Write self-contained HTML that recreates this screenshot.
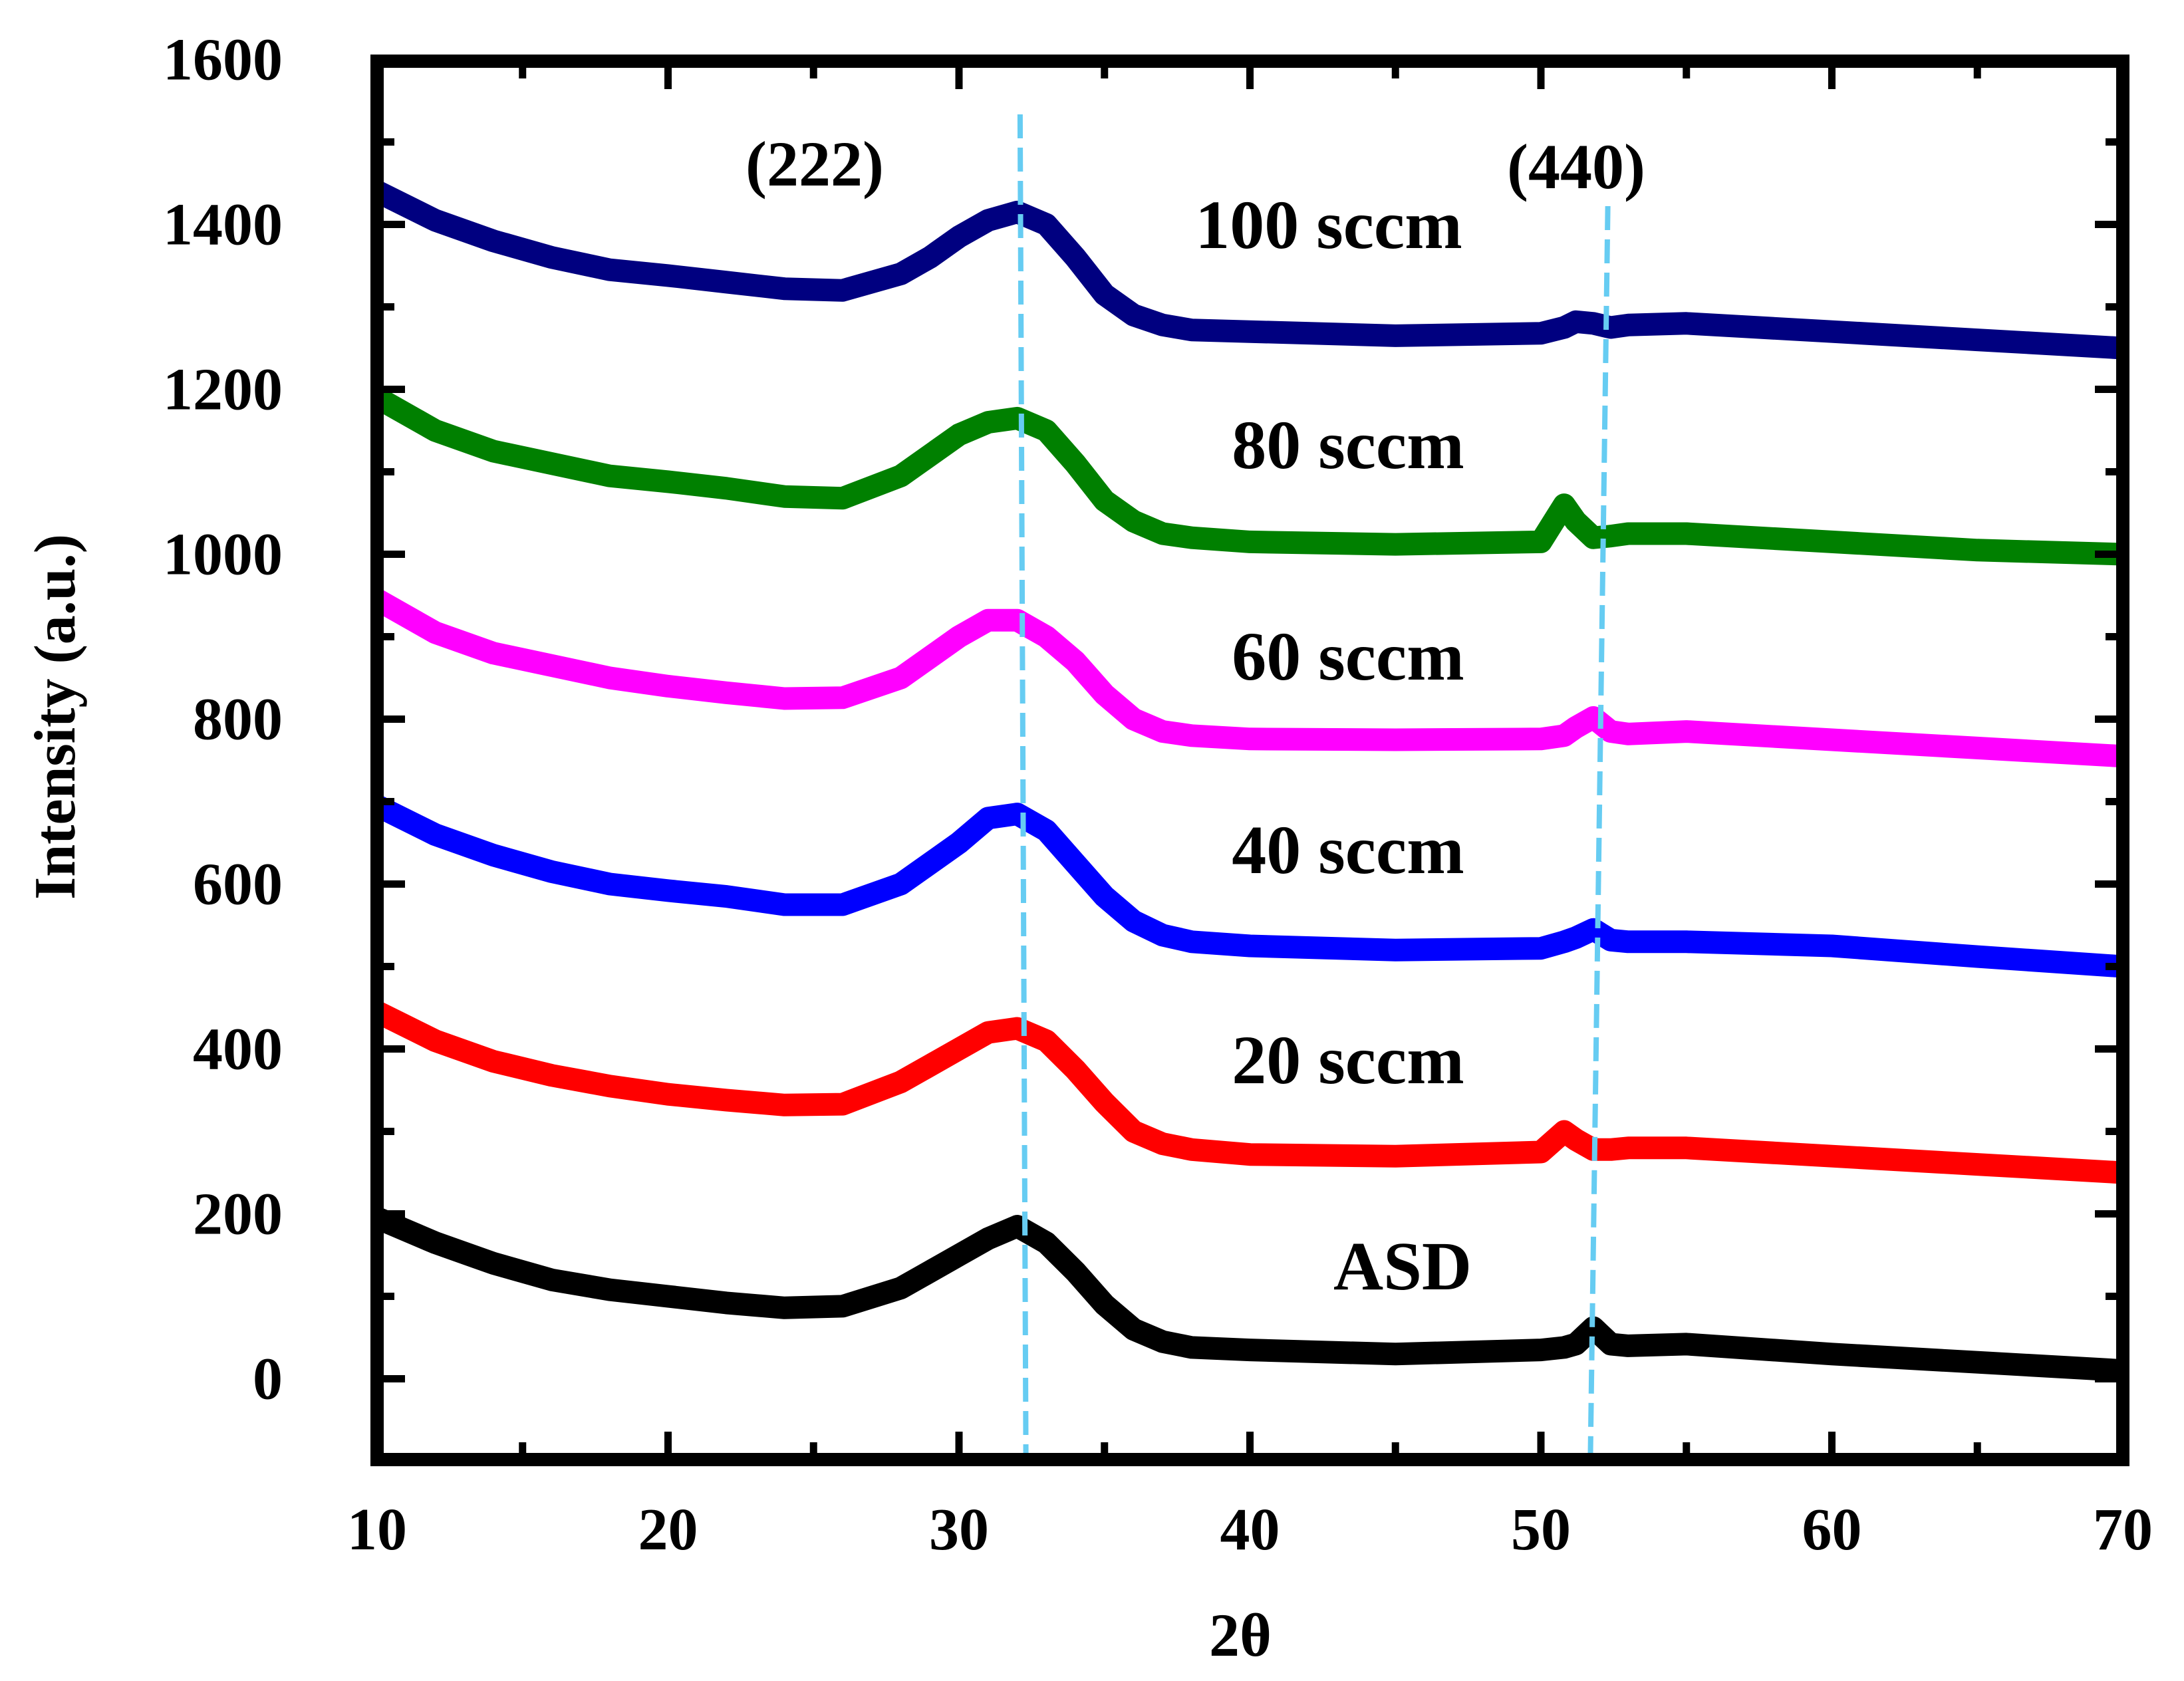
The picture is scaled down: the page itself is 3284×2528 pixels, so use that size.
<!DOCTYPE html>
<html><head><meta charset="utf-8"><style>
html,body{margin:0;padding:0;background:#fff}
svg{display:block}
text{font-family:"Liberation Serif",serif;font-weight:bold;fill:#000}
</style></head><body>
<svg id="chart" width="3284" height="2528" viewBox="0 0 3284 2528" xmlns="http://www.w3.org/2000/svg">
<defs><clipPath id="pc"><rect x="567" y="92" width="2625" height="2103"/></clipPath></defs>
<g id="curves" clip-path="url(#pc)"></g>
<g id="dashes"></g>
<g id="axes"></g>
<g id="labels"></g>
</svg>
<script>
const xTicks=[10,20,30,40,50,60,70];
const yTicks=[0,200,400,600,800,1000,1200,1400,1600];
const xs=[10,12,14,16,18,20,22,24,26,28,29,30,31,32,33,34,35,36,37,38,40,45,50,50.8,51.2,51.8,52.4,53,55,60,65,70];
const asd=[195,165,140,120,108,100,92,86,88,110,130,150,170,185,165,130,90,60,45,38,35,30,35,38,42,62,42,40,42,30,20,10];
const s20=[445,410,385,368,355,345,338,332,333,360,380,400,420,425,410,375,335,300,285,278,272,270,275,300,290,278,278,280,280,270,260,250];
const s40=[695,660,635,615,600,592,585,575,575,600,625,650,680,685,665,625,585,555,538,530,525,520,522,530,535,545,532,530,530,525,512,500];
const s60=[945,905,880,865,850,840,832,825,826,850,875,900,920,920,900,870,830,800,785,780,776,775,776,780,790,802,785,782,785,775,765,755];
const s80=[1190,1150,1125,1110,1095,1088,1080,1070,1068,1095,1120,1145,1160,1165,1150,1110,1065,1040,1025,1020,1015,1012,1015,1060,1040,1020,1022,1025,1025,1015,1005,1000];
const s100=[1440,1405,1380,1360,1345,1338,1330,1322,1320,1340,1360,1385,1405,1415,1400,1360,1315,1290,1278,1272,1270,1265,1268,1275,1282,1280,1275,1278,1280,1270,1260,1250];
const seriesNames=["ASD","20 sccm","40 sccm","60 sccm","80 sccm","100 sccm"];
const seriesVals=[asd,s20,s40,s60,s80,s100];
const seriesColors=["#000000","#ff0000","#0000ff","#ff00ff","#008000","#000080"];
const peakLines=[[32.1,32.3],[52.3,51.7]];

const L=567,R=3192,T=92,B=2195;
const X0=10,X1=70,Y0=-98,Y1=1598;
const xS=v=>L+(v-X0)/(X1-X0)*(R-L);
const yS=v=>B-(v-Y0)/(Y1-Y0)*(B-T);
const NS="http://www.w3.org/2000/svg";
function mk(tag,attrs,parent){const e=document.createElementNS(NS,tag);for(const k in attrs)e.setAttribute(k,attrs[k]);parent.appendChild(e);return e;}
const curves=document.getElementById('curves'),dashes=document.getElementById('dashes'),axes=document.getElementById('axes'),labels=document.getElementById('labels');

seriesVals.forEach((vals,i)=>{
  let d='';vals.forEach((v,j)=>{d+=(j?'L':'M')+xS(xs[j]).toFixed(1)+','+yS(v).toFixed(1);});
  const p=mk('path',{d:d,fill:'none',stroke:seriesColors[i],'stroke-width':34,'stroke-linejoin':'round','stroke-linecap':'butt'},curves);
  
  
});
peakLines.forEach((pl,i)=>{
  const l=mk('line',{x1:xS(pl[0]),y1:i?310:172,x2:xS(pl[1]),y2:B,stroke:'#66ccf2','stroke-width':8,'stroke-dasharray':'36,14'},dashes);
  
  
});
const fr=mk('rect',{x:L,y:T,width:R-L,height:B-T,fill:'none',stroke:'#000','stroke-width':20},axes);


for(let v=10;v<=70;v+=5){
  const len=(v%10===0)?42:26;
  mk('line',{x1:xS(v),y1:B,x2:xS(v),y2:B-len,stroke:'#000','stroke-width':11},axes);
  mk('line',{x1:xS(v),y1:T,x2:xS(v),y2:T+len,stroke:'#000','stroke-width':11},axes);
}
for(let v=-100;v<=1600;v+=100){
  if(yS(v)<T+5||yS(v)>B-5)continue;
  const len=(v%200===0)?42:26;
  mk('line',{x1:L,y1:yS(v),x2:L+len,y2:yS(v),stroke:'#000','stroke-width':11},axes);
  mk('line',{x1:R,y1:yS(v),x2:R-len,y2:yS(v),stroke:'#000','stroke-width':11},axes);
}
xTicks.forEach(v=>{
  const t=mk('text',{x:xS(v),y:2330,'font-size':90,'text-anchor':'middle'},labels);t.textContent=v;
  
  
});
yTicks.forEach(v=>{
  const t=mk('text',{x:425,y:yS(v)+30,'font-size':90,'text-anchor':'end'},labels);t.textContent=v;
  
  
});
</script>
<svg style="position:absolute;left:0;top:0" width="3284" height="2528">
<text x="1865" y="2490" font-size="92" text-anchor="middle">2θ</text>
<text transform="translate(112,1078) rotate(-90)" font-size="88" text-anchor="middle">Intensity (a.u.)</text>
<text x="1225" y="279" font-size="96" text-anchor="middle">(222)</text>
<text x="2370" y="283" font-size="96" text-anchor="middle">(440)</text>
<text x="1998" y="373" font-size="104" text-anchor="middle">100 sccm</text>
<text x="2027" y="704" font-size="104" text-anchor="middle">80 sccm</text>
<text x="2027" y="1022" font-size="104" text-anchor="middle">60 sccm</text>
<text x="2027" y="1313" font-size="104" text-anchor="middle">40 sccm</text>
<text x="2027" y="1629" font-size="104" text-anchor="middle">20 sccm</text>
<text x="2109" y="1939" font-size="104" text-anchor="middle">ASD</text>
</svg>
</body></html>
